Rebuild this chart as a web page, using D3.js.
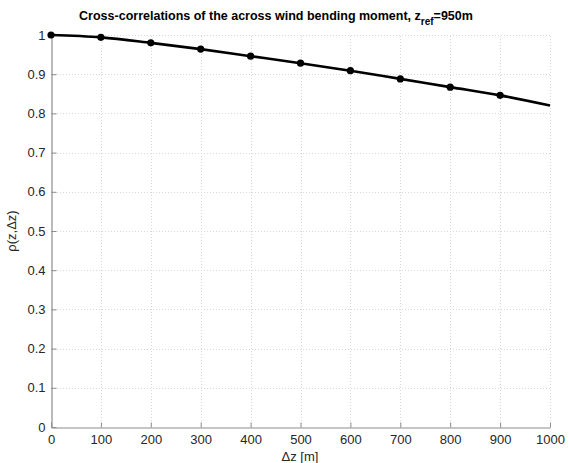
<!DOCTYPE html>
<html>
<head>
<meta charset="utf-8">
<script src="https://cdn.jsdelivr.net/npm/d3@7"></script>
<style>
  html, body { margin: 0; padding: 0; background: #fff; }
  svg { display: block; font-family: "Liberation Sans", Arial, Helvetica, sans-serif; }
</style>
</head>
<body>
<svg id="chart" width="569" height="463"></svg>
<script>
// Separation distances of the sampled heights (m) and their correlation coefficients
const sampleDz = [0, 100, 200, 300, 400, 500, 600, 700, 800, 900];
const sampleRho = [1.000, 0.994, 0.980, 0.964, 0.946, 0.928, 0.909, 0.888, 0.867, 0.846];

// Fitted correlation curve
const fitDz = [0, 100, 200, 300, 400, 500, 600, 700, 800, 900, 1000];
const fitRho = [1.000, 0.994, 0.980, 0.964, 0.946, 0.928, 0.909, 0.888, 0.867, 0.846, 0.820];

// Tick values
const xTicks = [0, 100, 200, 300, 400, 500, 600, 700, 800, 900, 1000];
const yTicks = [0, 0.1, 0.2, 0.3, 0.4, 0.5, 0.6, 0.7, 0.8, 0.9, 1];

const svg = d3.select("#chart");
const margin = { left: 51, right: 19, top: 35, bottom: 36 };
const W = 569, H = 463;

const x = d3.scaleLinear().domain([0, 1000]).range([margin.left, W - margin.right]);
const y = d3.scaleLinear().domain([0, 1]).range([H - margin.bottom, margin.top]);

// Grid
const grid = svg.append("g").attr("stroke", "#d9d9d9").attr("stroke-width", 1)
  .attr("stroke-dasharray", "1,2");
grid.selectAll("line.vx").data(xTicks.slice(1)).join("line")
  .attr("x1", d => Math.round(x(d)) + 0.5).attr("x2", d => Math.round(x(d)) + 0.5)
  .attr("y1", y(0)).attr("y2", y(1));
grid.selectAll("line.hy").data(yTicks.slice(1)).join("line")
  .attr("y1", d => Math.round(y(d)) + 0.5).attr("y2", d => Math.round(y(d)) + 0.5)
  .attr("x1", x(0)).attr("x2", x(1000));

// Axes (ticks pointing inward)
const xAxis = d3.axisBottom(x).tickValues(xTicks).tickFormat(d3.format("d"))
  .tickSizeInner(-5).tickSizeOuter(0).tickPadding(7);
const yAxis = d3.axisLeft(y).tickValues(yTicks).tickFormat(d => d === 0 || d === 1 ? d3.format("d")(d) : d3.format(".1f")(d))
  .tickSizeInner(-5).tickSizeOuter(0).tickPadding(9);

const gx = svg.append("g").attr("transform", `translate(0,${Math.round(y(0)) + 0.5})`).call(xAxis);
const gy = svg.append("g").attr("transform", `translate(${Math.round(x(0)) + 0.5},0)`).call(yAxis);
[gx, gy].forEach(g => {
  g.select(".domain").attr("stroke", "#8c8c8c").attr("stroke-width", 1.2);
  g.selectAll(".tick line").attr("stroke", "#8c8c8c");
  g.selectAll(".tick text").attr("fill", "#262626").attr("font-size", 13)
    .attr("font-family", "\"Liberation Sans\", Arial, sans-serif");
});
gy.selectAll(".tick text").attr("dx", 3);

// Fitted curve
const line = d3.line().x(d => x(d[0])).y(d => y(d[1])).curve(d3.curveCatmullRom);
svg.append("path")
  .datum(fitDz.map((d, i) => [d, fitRho[i]]))
  .attr("d", line)
  .attr("fill", "none").attr("stroke", "#000").attr("stroke-width", 2.6);

// Sample markers
svg.selectAll("circle.pt").data(sampleDz.map((d, i) => [d, sampleRho[i]])).join("circle")
  .attr("cx", d => x(d[0])).attr("cy", d => y(d[1])).attr("r", 3.6).attr("fill", "#000");

// Title with subscript
const title = svg.append("text").attr("x", 276).attr("y", 20).attr("text-anchor", "middle")
  .attr("font-size", 12.5).attr("font-weight", "bold").attr("fill", "#000");
title.append("tspan").text("Cross-correlations of the across wind bending moment, z");
title.append("tspan").attr("font-size", 10).attr("dy", 5).text("ref");
title.append("tspan").attr("dy", -5).text("=950m");

// Axis labels
svg.append("text").attr("x", 300).attr("y", 461).attr("text-anchor", "middle")
  .attr("font-size", 13).attr("fill", "#262626").text("Δz [m]");
svg.append("text").attr("transform", `translate(16,${(y(0) + y(1)) / 2}) rotate(-90)`)
  .attr("text-anchor", "middle").attr("font-size", 13).attr("fill", "#262626").text("ρ(z,Δz)");
</script>
</body>
</html>
